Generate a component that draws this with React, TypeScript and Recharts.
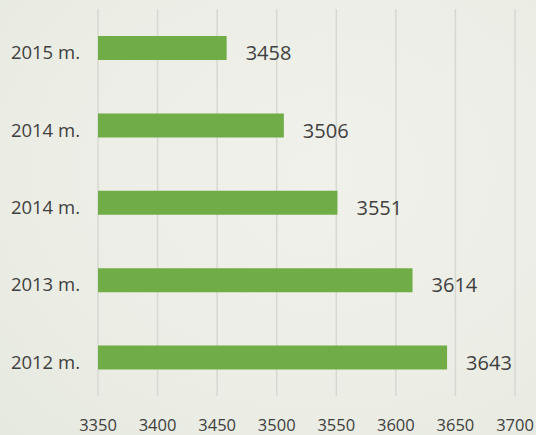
import { BarChart, Bar, XAxis, YAxis, CartesianGrid, LabelList } from 'recharts';

const years = ['2015 m.', '2014 m.', '2014 m.', '2013 m.', '2012 m.'];
const values = [3458, 3506, 3551, 3614, 3643];
const xTicks = [3350, 3400, 3450, 3500, 3550, 3600, 3650, 3700];

const data = years.map((name, i) => ({ name, value: values[i] }));

const font = '"Open Sans", "Liberation Sans", sans-serif';

const App = () => {
  return (
    <div
      style={{
        position: 'absolute',
        left: 0,
        top: 0,
        width: 536,
        height: 435,
        background: 'radial-gradient(ellipse at 60% 40%, #f0f1ea 0%, #eceee6 60%, #e6e9df 100%)',
        fontFamily: font,
      }}
    >
      <BarChart
        width={536}
        height={435}
        data={data}
        layout="vertical"
        margin={{ top: 9, right: 21, left: 0, bottom: 0 }}
        barCategoryGap={26}
      >
        <CartesianGrid horizontal={false} stroke="#d6d8d2" strokeWidth={1.5} />
        <XAxis
          type="number"
          domain={[3350, 3700]}
          ticks={xTicks}
          axisLine={false}
          tickLine={false}
          height={39}
          interval={0}
          tick={{ fill: '#404040', fontSize: 16.5, fontFamily: font, dy: 15 }}
        />
        <YAxis
          type="category"
          dataKey="name"
          width={98}
          axisLine={false}
          tickLine={false}
          tick={{ fill: '#404040', fontSize: 18.5, fontFamily: font, dx: -10, dy: 5 }}
        />
        <Bar dataKey="value" fill="#70ad47" barSize={24} isAnimationActive={false}>
          <LabelList
            dataKey="value"
            position="right"
            offset={19}
            fill="#404040"
            fontSize={20}
            fontFamily={font}
            dy={5}
          />
        </Bar>
      </BarChart>
    </div>
  );
};

export default App;
